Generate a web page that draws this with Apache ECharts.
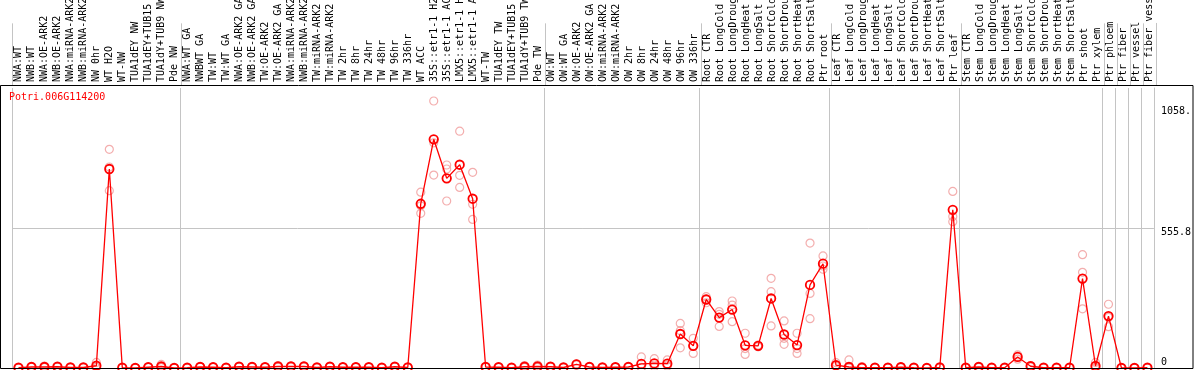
<!DOCTYPE html>
<html>
<head>
<meta charset="utf-8">
<script src="https://cdn.jsdelivr.net/npm/echarts@6/dist/echarts.min.js"></script>
<style>html,body{margin:0;padding:0;background:#fff;}#c{width:1194px;height:370px;}</style>
</head>
<body>
<div id="c"></div>
<script>
const categories = [
  'NWA:WT','NWB:WT','NWA:OE-ARK2','NWB:OE-ARK2','NWA:miRNA-ARK2','NWB:miRNA-ARK2','NW 0hr','WT H2O','WT-NW','TUA1dEY NW','TUA1dEY+TUB15','TUA1dY+TUB9 NW','Pde NW',
  'NWA:WT GA','NWBWT GA','TW:WT','TW:WT GA','NWA:OE-ARK2 GA','NWB:OE-ARK2 GA','TW:OE-ARK2','TW:OE-ARK2 GA','NWA:miRNA-ARK2','NWB:miRNA-ARK2','TW:miRNA-ARK2','TW:miRNA-ARK2','TW 2hr','TW 8hr','TW 24hr','TW 48hr','TW 96hr','TW 336hr','WT ACC','35S::etr1-1 H2O','35S::etr1-1 ACC','LMX5::etr1-1 H2O','LMX5::etr1-1 ACC','WT-TW','TUA1dEY TW','TUA1dEY+TUB15','TUA1dY+TUB9 TW','Pde TW',
  'OW:WT','OW:WT GA','OW:OE-ARK2','OW:OE-ARK2 GA','OW:miRNA-ARK2','OW:miRNA-ARK2','OW 2hr','OW 8hr','OW 24hr','OW 48hr','OW 96hr','OW 336hr',
  'Root CTR','Root LongCold','Root LongDrought','Root LongHeat','Root LongSalt','Root ShortCold','Root ShortDrought','Root ShortHeat','Root ShortSalt','Ptr root',
  'Leaf CTR','Leaf LongCold','Leaf LongDrought','Leaf LongHeat','Leaf LongSalt','Leaf ShortCold','Leaf ShortDrought','Leaf ShortHeat','Leaf ShortSalt','Ptr leaf',
  'Stem CTR','Stem LongCold','Stem LongDrought','Stem LongHeat','Stem LongSalt','Stem ShortCold','Stem ShortDrought','Stem ShortHeat','Stem ShortSalt','Ptr shoot','Ptr xylem',
  'Ptr phloem','Ptr fiber','Ptr vessel','Ptr fiber vessel'
];
// category indices where a group separator line is drawn (left edge of that category)
const groupStarts = [0, 13, 41, 53, 63, 73, 84, 85, 86, 87];

const means = [
  1,4,4,5,2,2,9,790,1,0,3,6,0,
  1,4,3,1,5,4,3,6,6,6,2,5,3,3,3,1,5,2,652,908,753,807,672,4,3,1,5,6,
  5,2,14,4,2,3,4,16,18,17,135,88,
  272,200,232,90,88,276,133,91,330,414,
  11,4,1,1,1,3,1,0,2,628,
  1,4,1,1,44,7,1,1,1,355,8,
  206,0,0,1
];
const rep1 = [
  1,3,8,5,2,3,22,868,1,0,4,14,0,
  1,5,4,1,6,6,4,10,8,8,2,6,3,4,3,2,6,3,698,1060,806,940,777,5,4,2,10,12,
  6,3,16,5,2,4,5,44,37,32,177,118,
  283,224,266,138,91,356,187,138,496,445,
  21,32,6,1,2,5,1,0,2,701,
  1,6,1,1,52,10,2,1,1,450,22,
  253,0,0,1
];
const rep2 = [
  2,6,2,6,3,2,3,798,1,0,3,2,0,
  1,4,3,1,5,4,3,5,6,6,2,5,3,3,3,1,5,2,644,894,790,765,650,4,3,1,3,4,
  5,2,14,4,2,3,4,3,12,12,148,88,
  274,213,250,77,88,303,118,77,296,405,
  12,1,4,1,1,3,1,0,2,601,
  1,4,1,1,44,6,1,1,1,380,2,
  201,0,0,1
];
const rep3 = [
  0,3,2,4,1,1,2,704,1,0,2,2,0,
  0,3,2,1,4,2,2,3,4,4,1,4,2,2,2,1,4,1,614,766,663,717,590,3,2,1,2,2,
  4,1,12,3,1,2,3,1,5,7,80,58,
  259,165,184,54,84,167,94,58,196,392,
  6,0,2,1,0,1,0,0,1,581,
  0,2,1,0,35,4,0,0,1,235,1,
  164,0,0,0
];
const yTickValues = [0, 555.8, 1058.67];
const yTickLabels = ['0', '555.8', '1058.'];
const yMax = 1111.6;
const yStep = 555.8;
const geneTitle = 'Potri.006G114200';

const GRAY = '#c4c4c4';
const FONT = 'DejaVu Sans Mono';

const sepLine = {
  show: true,
  interval: function (idx) { return groupStarts.indexOf(idx) >= 0; },
  lineStyle: { color: GRAY, width: 1 }
};

function repSeries(arr) {
  return {
    type: 'scatter', xAxisIndex: 1, yAxisIndex: 1,
    data: arr.map(function (v, i) { return [i, v]; }),
    symbol: 'circle', symbolSize: 8,
    itemStyle: { color: 'rgba(0,0,0,0)', borderColor: '#f09a9a', borderWidth: 1.2 },
    z: 2, silent: true
  };
}

const chart = echarts.init(document.getElementById('c'), null, { renderer: 'canvas' });
chart.setOption({
  animation: false,
  backgroundColor: '#fff',
  title: {
    text: geneTitle, left: 9, top: 92, padding: 0,
    textStyle: { color: '#ff0000', fontFamily: FONT, fontSize: 10, fontWeight: 'normal' }
  },
  grid: [
    { left: 12, width: 1144, top: 0, height: 85 },
    { left: 12, width: 1144, top: 88, height: 280 }
  ],
  xAxis: [
    {
      gridIndex: 0, type: 'category', data: categories, position: 'bottom',
      axisLine: { show: false }, axisTick: { show: false },
      axisLabel: { inside: true, rotate: 90, interval: 0, margin: 3, color: '#000', fontFamily: FONT, fontSize: 10 },
      splitLine: sepLine
    },
    {
      gridIndex: 1, type: 'category', data: categories,
      axisLine: { show: false }, axisTick: { show: false }, axisLabel: { show: false },
      splitLine: sepLine
    }
  ],
  yAxis: [
    {
      gridIndex: 0, type: 'value', position: 'right',
      axisLine: { show: true, lineStyle: { color: GRAY, width: 1 } },
      axisTick: { show: false }, axisLabel: { show: false }, splitLine: { show: false }
    },
    {
      gridIndex: 1, type: 'value', position: 'right', min: 0, max: yMax, interval: yStep,
      axisLine: { show: true, lineStyle: { color: GRAY, width: 1 } },
      axisTick: { show: false },
      splitLine: { show: true, showMinLine: false, showMaxLine: false, lineStyle: { color: GRAY, width: 1 } },
      axisLabel: {
        customValues: yTickValues, margin: 7, color: '#000', fontFamily: FONT, fontSize: 10,
        formatter: function (v) {
          const k = yTickValues.indexOf(v);
          const t = k >= 0 ? yTickLabels[k] : '';
          if (k === 0) return '{z|' + t + '}';
          if (k === 1) return '{m|' + t + '}';
          return '{t|' + t + '}';
        },
        rich: {
          z: { fontFamily: FONT, fontSize: 10, color: '#000', padding: [0, 0, 12, 0] },
          m: { fontFamily: FONT, fontSize: 10, color: '#000', padding: [8, 0, 0, 0] },
          t: { fontFamily: FONT, fontSize: 10, color: '#000', padding: [20, 0, 0, 0] }
        }
      }
    }
  ],
  graphic: [
    {
      type: 'rect', silent: true, z: 100,
      shape: { x: 0.5, y: 85.5, width: 1192.5, height: 283 },
      style: { fill: 'none', stroke: '#000', lineWidth: 1 }
    }
  ],
  series: [
    repSeries(rep1), repSeries(rep2), repSeries(rep3),
    {
      type: 'line', xAxisIndex: 1, yAxisIndex: 1, data: means,
      symbol: 'circle', symbolSize: 8.5, showAllSymbol: true,
      lineStyle: { color: '#ff0000', width: 1.3 },
      itemStyle: { color: 'rgba(0,0,0,0)', borderColor: '#ff0000', borderWidth: 1.8 },
      z: 3, silent: true
    }
  ]
});
</script>
</body>
</html>
